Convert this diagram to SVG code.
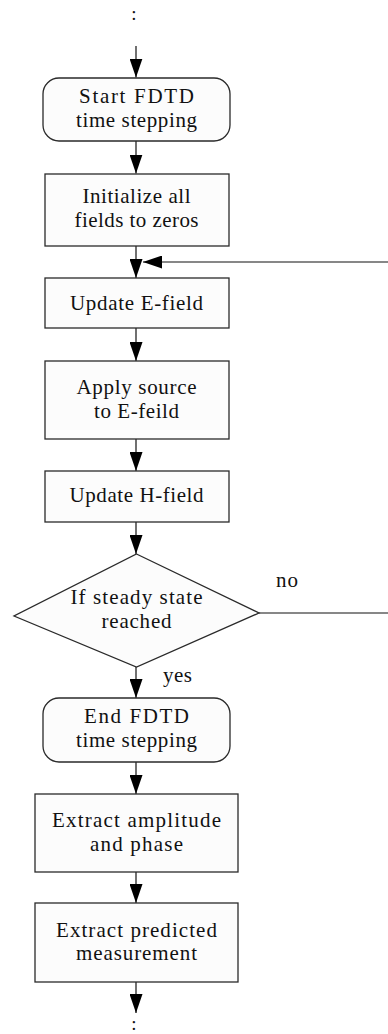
<svg xmlns="http://www.w3.org/2000/svg" width="388" height="1034" viewBox="0 0 388 1034">
  <style>
    .box { fill: #fcfcfc; stroke: #2a2a2a; stroke-width: 1.3; }
    .lbl { font-family: "Liberation Serif", "Times New Roman", serif; font-size: 21px; fill: #111; text-anchor: middle; }
    .side { font-family: "Liberation Serif", "Times New Roman", serif; font-size: 21px; fill: #111; }
    .dots { font-family: "Liberation Serif", "Times New Roman", serif; font-size: 19px; fill: #111; text-anchor: middle; }
    .wire { fill: none; stroke: #111; stroke-width: 1.2; }
  </style>
  <defs>
    <marker id="head" viewBox="0 0 19 13" refX="19" refY="6.5" markerWidth="19" markerHeight="13" markerUnits="userSpaceOnUse" orient="auto">
      <path d="M0,0 L19,6.5 L0,13 z" fill="#000"/>
    </marker>
  </defs>

  <!-- continuation dots above and below the chart -->
  <text class="dots" x="134" y="20">:</text>
  <text class="dots" x="134" y="1029.5">:</text>

  <!-- connectors -->
  <g id="connectors">
    <line class="wire" x1="136" y1="46" x2="136" y2="77.5" marker-end="url(#head)"/>
    <line class="wire" x1="136" y1="141" x2="136" y2="173.5" marker-end="url(#head)"/>
    <line class="wire" x1="136" y1="246" x2="136" y2="278" marker-end="url(#head)"/>
    <line class="wire" x1="390" y1="262" x2="143" y2="262" marker-end="url(#head)"/>
    <line class="wire" x1="136" y1="328" x2="136" y2="361" marker-end="url(#head)"/>
    <line class="wire" x1="136" y1="439" x2="136" y2="471" marker-end="url(#head)"/>
    <line class="wire" x1="136" y1="522" x2="136" y2="554" marker-end="url(#head)"/>
    <line class="wire" x1="136" y1="667" x2="136" y2="698" marker-end="url(#head)"/>
    <line class="wire" x1="136" y1="762" x2="136" y2="794" marker-end="url(#head)"/>
    <line class="wire" x1="136" y1="872" x2="136" y2="903" marker-end="url(#head)"/>
    <line class="wire" x1="136" y1="982" x2="136" y2="1013" marker-end="url(#head)"/>
    <line class="wire" x1="259" y1="613" x2="390" y2="613"/>
    <text class="side" x="276" y="587" textLength="22">no</text>
    <text class="side" x="163" y="682" textLength="29">yes</text>
  </g>

  <g id="start">
    <rect class="box" x="43" y="78" width="187" height="63" rx="16" ry="16"/>
    <text class="lbl" x="136.5" y="103" textLength="115">Start FDTD</text>
    <text class="lbl" x="136.5" y="126.5" textLength="121">time stepping</text>
  </g>

  <g id="init">
    <rect class="box" x="45" y="174" width="184" height="72"/>
    <text class="lbl" x="136.5" y="203" textLength="108">Initialize all</text>
    <text class="lbl" x="136.5" y="226.5" textLength="124">fields to zeros</text>
  </g>

  <g id="update-e">
    <rect class="box" x="45" y="278" width="184" height="50"/>
    <text class="lbl" x="136.5" y="310" textLength="133">Update E-field</text>
  </g>

  <g id="apply-source">
    <rect class="box" x="45" y="361" width="184" height="78"/>
    <text class="lbl" x="136.5" y="394" textLength="120">Apply source</text>
    <text class="lbl" x="136.5" y="417.5" textLength="85">to E-feild</text>
  </g>

  <g id="update-h">
    <rect class="box" x="45" y="471" width="184" height="51"/>
    <text class="lbl" x="136.5" y="502" textLength="134">Update H-field</text>
  </g>

  <g id="steady-check">
    <polygon class="box" points="136.5,554 259,613 136.5,667 14,616"/>
    <text class="lbl" x="136.5" y="604" textLength="132">If steady state</text>
    <text class="lbl" x="136.5" y="627.5" textLength="70">reached</text>
  </g>

  <g id="end">
    <rect class="box" x="43" y="698" width="187" height="64" rx="16" ry="16"/>
    <text class="lbl" x="136.5" y="723" textLength="105">End FDTD</text>
    <text class="lbl" x="136.5" y="746.5" textLength="121">time stepping</text>
  </g>

  <g id="extract-amp">
    <rect class="box" x="35" y="794" width="203" height="78"/>
    <text class="lbl" x="136.5" y="827" textLength="169">Extract amplitude</text>
    <text class="lbl" x="136.5" y="850.5" textLength="93">and phase</text>
  </g>

  <g id="extract-pred">
    <rect class="box" x="35" y="903" width="203" height="79"/>
    <text class="lbl" x="136.5" y="936.5" textLength="161">Extract predicted</text>
    <text class="lbl" x="136.5" y="960" textLength="121">measurement</text>
  </g>
</svg>
